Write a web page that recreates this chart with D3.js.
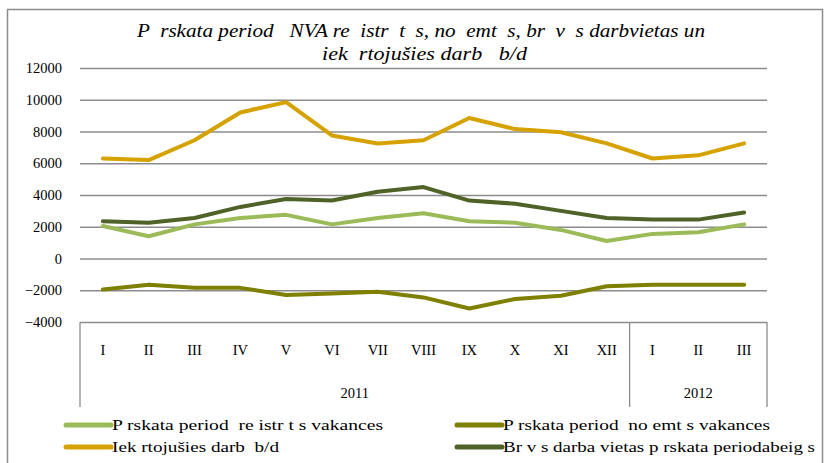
<!DOCTYPE html>
<html>
<head>
<meta charset="utf-8">
<script src="https://cdn.jsdelivr.net/npm/d3@7"></script>
<style>
  body { margin: 0; background: #fff; }
  svg text { font-family: "Liberation Serif", "Times New Roman", serif; white-space: pre; }
</style>
</head>
<body>
<svg id="chart"></svg>
<script>
const W = 829, H = 463
const MARGIN = { left: 80, right: 62, top: 68, bottom: 141 }

// data
const MONTHS = ["I", "II", "III", "IV", "V", "VI", "VII", "VIII", "IX", "X", "XI", "XII", "I", "II", "III"]
const YEARS = [{ label: "2011", from: 0, to: 12 }, { label: "2012", from: 12, to: 15 }]
const registered = [2050, 1400, 2150, 2550, 2750, 2150, 2550, 2850, 2350, 2250, 1800, 1100, 1550, 1650, 2150]
const removed = [-1950, -1650, -1850, -1850, -2300, -2200, -2100, -2450, -3150, -2550, -2350, -1750, -1650, -1650, -1650]
const employed = [6300, 6200, 7450, 9200, 9850, 7750, 7250, 7450, 8850, 8150, 7950, 7250, 6300, 6500, 7250]
const freeAtEnd = [2350, 2250, 2550, 3250, 3750, 3650, 4200, 4500, 3650, 3450, 3000, 2550, 2450, 2450, 2900]
const Y_TICKS = [-4000, -2000, 0, 2000, 4000, 6000, 8000, 10000, 12000]

const SERIES = [
  { name: "P rskata period  re istr t s vakances", values: registered, color: "#9bbb59", lx: 66, ly: 425, tw: 271 },
  { name: "P rskata period  no emt s vakances", values: removed, color: "#7f7f00", lx: 457, ly: 425, tw: 267 },
  { name: "Iek rtojušies darb  b/d", values: employed, color: "#d6a200", lx: 66, ly: 447, tw: 167 },
  { name: "Br v s darba vietas p rskata periodabeig s", values: freeAtEnd, color: "#4f6228", lx: 457, ly: 447, tw: 312 }
]

const FONT = "Liberation Serif, Times New Roman, serif"

const svg = d3.select("#chart").attr("width", W).attr("height", H)
  .attr("font-family", FONT)

// outer frame
svg.append("rect")
  .attr("x", 7.5).attr("y", 9.5).attr("width", 815).attr("height", 470)
  .attr("fill", "none").attr("stroke", "#8c8c8c").attr("stroke-width", 1.5)

// title
const title = svg.append("g").attr("font-style", "italic").attr("font-size", 18)
title.append("text").attr("x", 137).attr("y", 37)
  .attr("textLength", 568).attr("lengthAdjust", "spacingAndGlyphs")
  .text("P  rskata period   NVA re  istr  t  s, no  emt  s, br  v  s darbvietas un")
title.append("text").attr("x", 322).attr("y", 60)
  .attr("textLength", 205).attr("lengthAdjust", "spacingAndGlyphs")
  .text("iek  rtojušies darb   b/d")

const plotW = W - MARGIN.left - MARGIN.right
const plotH = H - MARGIN.top - MARGIN.bottom

const x = d3.scaleBand()
  .domain(d3.range(MONTHS.length))
  .range([MARGIN.left, MARGIN.left + plotW])

const y = d3.scaleLinear()
  .domain([-4000, 12000])
  .range([MARGIN.top + plotH, MARGIN.top])

// gridlines + y labels
svg.append("g")
  .attr("transform", `translate(${MARGIN.left},0)`)
  .call(d3.axisLeft(y).tickValues(Y_TICKS).tickFormat(d3.format("d")).tickSize(-plotW).tickPadding(18))
  .attr("font-family", FONT)
  .call(g => g.select(".domain").remove())
  .call(g => g.selectAll(".tick line").attr("stroke", "#8c8c8c").attr("stroke-width", 1.3))
  .call(g => g.selectAll(".tick text").attr("font-size", 14.5).attr("fill", "#000"))

// category axis (month row + year row)
const axisTop = y(-4000)
const axisBottom = 407
const cat = svg.append("g").attr("font-size", 14.5)
cat.selectAll("text.month")
  .data(MONTHS)
  .join("text")
  .attr("class", "month")
  .attr("x", (d, i) => x(i) + x.bandwidth() / 2)
  .attr("y", 355)
  .attr("text-anchor", "middle")
  .text(d => d)

cat.selectAll("text.year")
  .data(YEARS)
  .join("text")
  .attr("class", "year")
  .attr("x", d => (x(d.from) + x(d.to - 1) + x.bandwidth()) / 2)
  .attr("y", 398)
  .attr("text-anchor", "middle")
  .text(d => d.label)

const seps = [0, 12, MONTHS.length].map(i => i < MONTHS.length ? x(i) : x(i - 1) + x.bandwidth())
cat.selectAll("line.sep")
  .data(seps)
  .join("line")
  .attr("class", "sep")
  .attr("x1", d => d).attr("x2", d => d)
  .attr("y1", axisTop).attr("y2", axisBottom)
  .attr("stroke", "#8c8c8c").attr("stroke-width", 1.3)

// series lines
const line = d3.line()
  .x((d, i) => x(i) + x.bandwidth() / 2)
  .y(d => y(d))

svg.append("g")
  .selectAll("path")
  .data(SERIES)
  .join("path")
  .attr("d", d => line(d.values))
  .attr("fill", "none")
  .attr("stroke", d => d.color)
  .attr("stroke-width", 4)
  .attr("stroke-linecap", "round")
  .attr("stroke-linejoin", "round")

// legend
const leg = svg.append("g").selectAll("g").data(SERIES).join("g")
leg.append("line")
  .attr("x1", d => d.lx).attr("x2", d => d.lx + 45)
  .attr("y1", d => d.ly).attr("y2", d => d.ly)
  .attr("stroke", d => d.color).attr("stroke-width", 5).attr("stroke-linecap", "round")
leg.append("text")
  .attr("x", d => d.lx + 46)
  .attr("y", d => d.ly + 5)
  .attr("font-size", 15)
  .attr("textLength", d => d.tw)
  .attr("lengthAdjust", "spacingAndGlyphs")
  .text(d => d.name)
</script>
</body>
</html>
